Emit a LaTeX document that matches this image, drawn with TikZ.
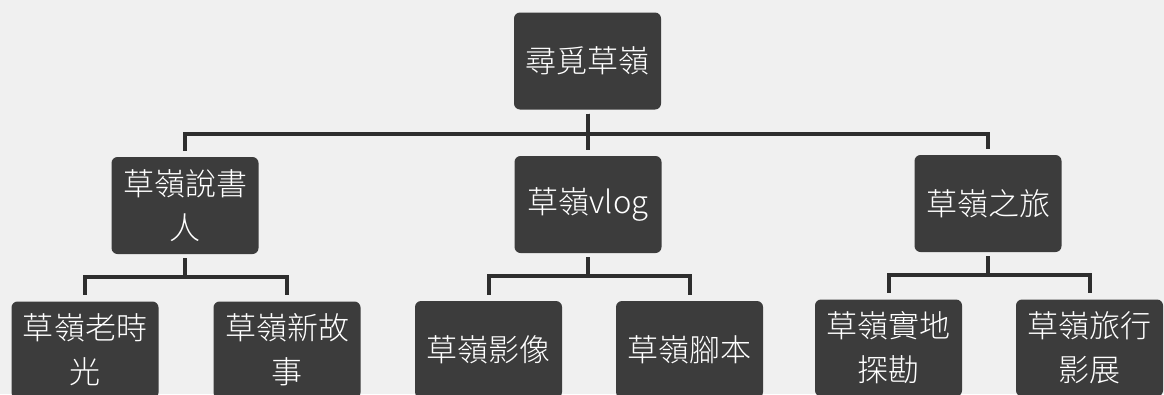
\documentclass[tikz,border=0pt]{standalone}
\usepackage{fontspec}
\setmainfont{Noto Sans CJK TC Light}
\definecolor{boxgray}{HTML}{3C3C3C}
\definecolor{linegray}{HTML}{2E2E2E}
\definecolor{bggray}{HTML}{F0F0F0}
\begin{document}
\begin{tikzpicture}[x=1pt,y=-1pt,
  box/.style={fill=boxgray, rounded corners=6pt, minimum width=147pt, minimum height=97pt,
    inner sep=0pt, text=white, align=center, font=\fontsize{31}{44}\selectfont},
  conn/.style={draw=linegray, line width=4pt, shorten <=4pt, shorten >=6pt}]
\clip (0,0) rectangle (1164,394);
\fill[bggray] (0,0) rectangle (1164,394);
\node[box] (root) at (587.5,61) {尋覓草嶺};
\node[box] (A) at (185,205.5) {草嶺說書\\人};
\node[box] (B) at (588,204.5) {草嶺vlog};
\node[box] (C) at (988,203.5) {草嶺之旅};
\node[box] (A1) at (85,350) {草嶺老時\\光};
\node[box] (A2) at (287,350) {草嶺新故\\事};
\node[box] (B1) at (488.5,349.5) {草嶺影像};
\node[box] (B2) at (689.5,349.5) {草嶺腳本};
\node[box] (C1) at (888.5,348) {草嶺實地\\探勘};
\node[box] (C2) at (1089.5,348) {草嶺旅行\\影展};
\foreach \c in {A,B,C}{\draw[conn] (root.south) -- ++(0,24) -| (\c.north);}
\foreach \c in {A1,A2}{\draw[conn] (A.south) -- ++(0,23) -| (\c.north);}
\foreach \c in {B1,B2}{\draw[conn] (B.south) -- ++(0,23) -| (\c.north);}
\foreach \c in {C1,C2}{\draw[conn] (C.south) -- ++(0,23) -| (\c.north);}
\end{tikzpicture}
\end{document}
